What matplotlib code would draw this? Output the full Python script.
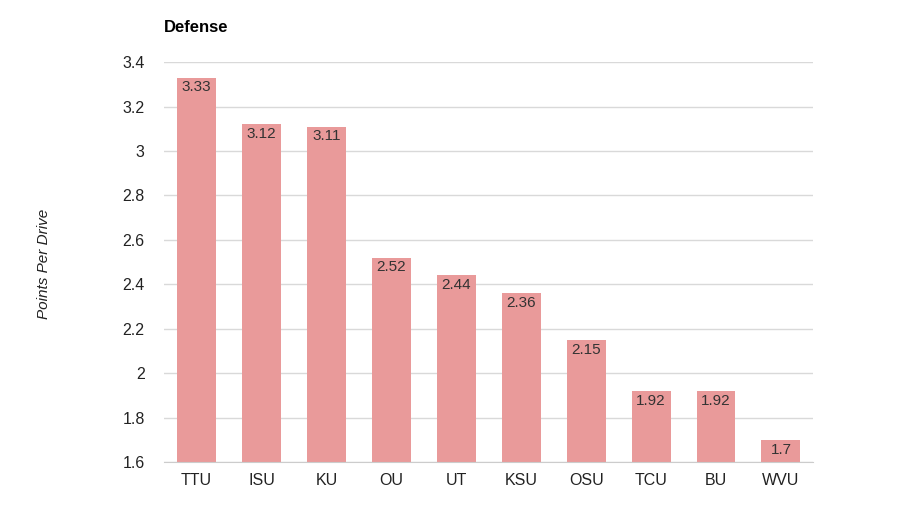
import numpy as np
import matplotlib.pyplot as plt

plt.rcParams['font.family'] = ['Liberation Sans', 'DejaVu Sans']

teams = ['TTU', 'ISU', 'KU', 'OU', 'UT', 'KSU', 'OSU', 'TCU', 'BU', 'WVU']
points_per_drive = [3.33, 3.12, 3.11, 2.52, 2.44, 2.36, 2.15, 1.92, 1.92, 1.70]
y_ticks = [1.6, 1.8, 2.0, 2.2, 2.4, 2.6, 2.8, 3.0, 3.2, 3.4]
y_tick_labels = ['1.6', '1.8', '2', '2.2', '2.4', '2.6', '2.8', '3', '3.2', '3.4']

fig = plt.figure(figsize=(9.17, 5.18), dpi=100)
ax = fig.add_axes([0.179, 0.108, 0.708, 0.772])

x = np.arange(len(teams))
ax.bar(x, points_per_drive, width=0.6, color='#e99a9a', zorder=2)

for xi, v in zip(x, points_per_drive):
    label = f'{v:g}'
    ax.text(xi, v - 0.012, label, ha='center', va='top', fontsize=11, color='#333333', zorder=3)

ax.set_xlim(-0.5, len(teams) - 0.5)
ax.set_ylim(1.6, 3.4)
ax.set_yticks(y_ticks)
ax.set_yticklabels(y_tick_labels)
ax.set_xticks(x)
ax.set_xticklabels(teams)
ax.tick_params(axis='both', length=0, labelsize=11.5, colors='#222222')
ax.tick_params(axis='y', pad=14)
ax.tick_params(axis='x', pad=8)
ax.grid(axis='y', color='#d9d9d9', linewidth=1, zorder=0)
for s in ['top', 'right', 'left']:
    ax.spines[s].set_visible(False)
ax.spines['bottom'].set_color('#cccccc')

fig.text(0.179, 0.947, 'Defense', fontsize=12, fontweight='bold', ha='left', va='center')
fig.text(0.048, 0.49, 'Points Per Drive', fontsize=11, fontstyle='italic', rotation=90,
         ha='center', va='center', color='#222222')

fig.savefig('out.png', dpi=100)
